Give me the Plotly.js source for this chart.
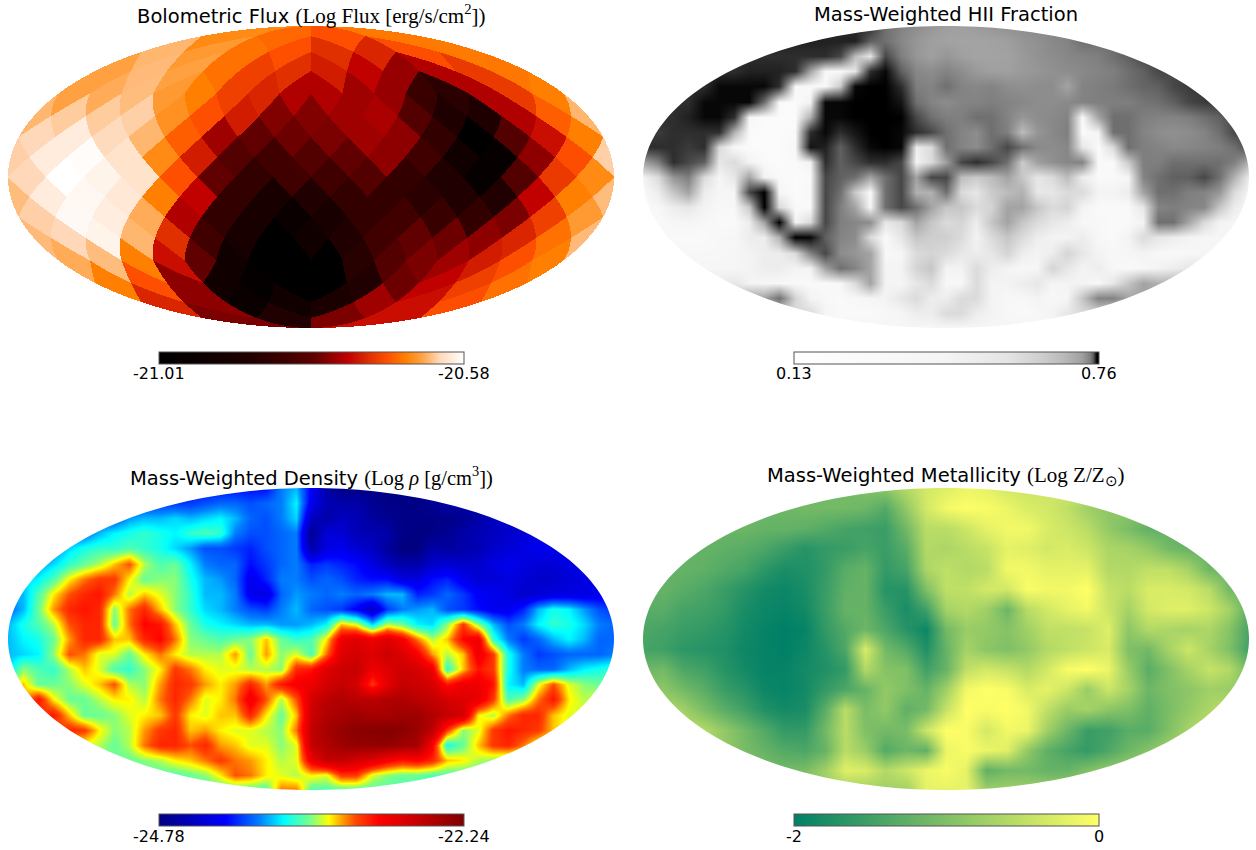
<!DOCTYPE html>
<html><head><meta charset="utf-8">
<script src="https://cdn.plot.ly/plotly-3.0.1.min.js"></script>
<style>html,body{margin:0;padding:0;background:#fff}#c{width:1256px;height:850px}</style>
</head><body><div id="c"></div>
<script>
// Log flux per sky pixel, ring by ring from the north, left to right as seen
const fluxRings = [
[-20.655,-20.675,-20.688,-20.666],
[-20.63,-20.645,-20.67,-20.688,-20.713,-20.72,-20.69,-20.665],
[-20.64,-20.628,-20.64,-20.67,-20.70,-20.713,-20.726,-20.743,-20.765,-20.752,-20.705,-20.667],
[-20.64,-20.635,-20.627,-20.645,-20.662,-20.70,-20.72,-20.752,-20.752,-20.761,-20.765,-20.84,-20.865,-20.752,-20.705,-20.662],
[-20.63,-20.62,-20.62,-20.618,-20.65,-20.688,-20.726,-20.775,-20.775,-20.761,-20.755,-20.808,-20.885,-20.885,-20.752,-20.68],
[-20.614,-20.597,-20.612,-20.63,-20.68,-20.761,-20.791,-20.785,-20.778,-20.761,-20.769,-20.851,-21.01,-20.808,-20.735,-20.662],
[-20.618,-20.597,-20.583,-20.605,-20.655,-20.726,-20.808,-20.829,-20.808,-20.791,-20.769,-20.829,-20.937,-20.98,-20.769,-20.69],
[-20.614,-20.58,-20.59,-20.605,-20.688,-20.791,-20.851,-20.829,-20.829,-20.808,-20.851,-20.881,-20.98,-20.808,-20.705,-20.655],
[-20.627,-20.597,-20.587,-20.60,-20.662,-20.743,-20.851,-20.91,-20.881,-20.851,-20.851,-20.865,-20.881,-20.881,-20.743,-20.662],
[-20.618,-20.585,-20.595,-20.635,-20.752,-20.851,-20.91,-20.96,-20.91,-20.851,-20.829,-20.84,-20.851,-20.778,-20.70,-20.645],
[-20.628,-20.614,-20.59,-20.63,-20.713,-20.829,-20.91,-21.01,-20.937,-20.881,-20.829,-20.79,-20.785,-20.769,-20.72,-20.67],
[-20.635,-20.627,-20.662,-20.735,-20.791,-20.937,-21.01,-21.01,-21.005,-20.87,-20.808,-20.778,-20.761,-20.726,-20.688,-20.662],
[-20.662,-20.688,-20.769,-20.937,-20.99,-21.01,-21.01,-20.881,-20.785,-20.743,-20.70,-20.67],
[-20.72,-20.769,-20.96,-20.937,-20.90,-20.761,-20.735,-20.69],
[-20.778,-20.881,-20.778,-20.735]
];
// HII fraction, sampled on a grid across the map picture (rows top to bottom)
const hiiRows = [
[.752,.752,.752,.752,.752,.752,.752,.752,.752,.752,.752,.752,.752,.752,.752,.752,.745,.74,.735,.73,.725,.725,.727,.73,.733,.735,.737,.738,.74,.74,.742,.742,.742,.742,.742,.742,.742,.742,.742,.742,.742],
[.753,.753,.753,.753,.753,.753,.753,.753,.753,.753,.753,.753,.753,.753,.753,.748,.745,.738,.73,.725,.722,.72,.72,.722,.725,.73,.733,.737,.74,.745,.745,.745,.745,.745,.745,.745,.745,.745,.745,.745,.745],
[.752,.752,.752,.752,.752,.752,.752,.752,.752,.752,.752,.752,.752,.75,.68,.55,.75,.742,.73,.725,.73,.725,.72,.72,.722,.728,.732,.735,.738,.74,.742,.745,.748,.75,.75,.75,.75,.75,.75,.75,.75],
[.752,.752,.752,.752,.752,.752,.752,.753,.753,.753,.752,.72,.35,.3,.55,.752,.755,.748,.738,.735,.74,.735,.728,.725,.725,.728,.73,.733,.735,.737,.74,.742,.745,.748,.75,.75,.75,.75,.75,.75,.75],
[.752,.752,.752,.752,.752,.755,.755,.755,.755,.752,.35,.3,.3,.65,.755,.756,.757,.752,.742,.74,.745,.74,.738,.74,.735,.733,.735,.735,.72,.74,.742,.743,.745,.747,.748,.75,.751,.751,.751,.751,.751],
[.752,.752,.752,.752,.755,.755,.755,.755,.745,.3,.25,.45,.755,.755,.756,.757,.757,.754,.745,.74,.735,.74,.74,.742,.74,.738,.735,.735,.737,.74,.742,.742,.742,.744,.745,.748,.75,.751,.751,.751,.751],
[.752,.752,.752,.753,.755,.755,.752,.4,.25,.25,.25,.7,.755,.755,.756,.757,.758,.756,.75,.745,.742,.742,.745,.745,.74,.73,.735,.737,.74,.3,.72,.745,.745,.742,.74,.74,.742,.745,.748,.75,.75],
[.751,.751,.752,.752,.752,.752,.7,.3,.25,.25,.3,.752,.755,.752,.754,.756,.757,.755,.752,.75,.745,.74,.735,.745,.742,.68,.73,.737,.742,.25,.45,.745,.745,.74,.735,.733,.735,.74,.745,.75,.75],
[.752,.752,.752,.751,.752,.6,.3,.25,.25,.25,.35,.754,.753,.748,.752,.755,.757,.755,.5,.6,.745,.74,.735,.745,.75,.745,.737,.735,.738,.55,.25,.6,.745,.742,.74,.737,.738,.74,.742,.745,.75],
[.72,.742,.752,.75,.748,.55,.6,.45,.3,.25,.3,.45,.752,.748,.75,.752,.752,.75,.45,.6,.725,.75,.752,.75,.745,.65,.725,.733,.738,.74,.3,.3,.65,.742,.742,.745,.745,.745,.745,.742,.7],
[.45,.6,.73,.742,.6,.4,.55,.72,.45,.3,.25,.3,.75,.748,.745,.72,.745,.75,.72,.75,.75,.68,.65,.68,.72,.66,.55,.6,.68,.5,.3,.3,.4,.74,.745,.748,.748,.75,.745,.7,.5],
[.3,.5,.66,.72,.5,.4,.4,.75,.756,.4,.25,.35,.75,.745,.65,.25,.745,.75,.7,.7,.745,.6,.55,.65,.68,.7,.55,.55,.6,.6,.45,.45,.5,.72,.745,.745,.742,.74,.73,.6,.4],
[.3,.35,.5,.55,.45,.35,.35,.65,.756,.6,.3,.3,.75,.742,.72,.4,.745,.75,.745,.72,.66,.66,.6,.62,.72,.72,.66,.6,.62,.45,.3,.3,.3,.55,.74,.742,.74,.738,.66,.5,.35],
[.35,.3,.4,.4,.35,.3,.3,.5,.72,.756,.45,.6,.75,.742,.738,.735,.55,.6,.72,.66,.6,.62,.5,.66,.72,.66,.6,.55,.5,.35,.35,.3,.3,.45,.745,.745,.72,.6,.45,.4,.4],
[.4,.35,.3,.3,.3,.35,.35,.5,.5,.7,.756,.755,.748,.74,.735,.6,.3,.55,.66,.64,.64,.6,.45,.6,.66,.6,.5,.45,.45,.5,.35,.3,.45,.6,.55,.5,.45,.4,.4,.4,.4],
[.35,.35,.35,.35,.35,.35,.4,.45,.5,.5,.6,.74,.75,.735,.73,.72,.35,.4,.6,.62,.6,.55,.5,.55,.62,.5,.45,.5,.62,.55,.45,.35,.4,.45,.35,.3,.35,.4,.4,.4,.4],
[.35,.35,.35,.35,.4,.4,.4,.45,.5,.5,.45,.45,.72,.745,.74,.72,.45,.45,.62,.66,.45,.45,.6,.5,.45,.35,.4,.62,.55,.45,.5,.35,.3,.35,.45,.5,.55,.55,.55,.55,.55],
[.5,.5,.5,.5,.5,.5,.55,.45,.4,.35,.3,.3,.3,.35,.6,.72,.45,.4,.55,.6,.35,.35,.6,.45,.45,.5,.55,.4,.45,.45,.35,.55,.66,.72,.7,.7,.7,.7,.7,.7,.7],
[.66,.66,.66,.66,.66,.66,.66,.72,.72,.745,.62,.45,.35,.3,.35,.4,.45,.55,.6,.5,.5,.6,.6,.45,.35,.35,.45,.35,.4,.66,.74,.74,.72,.72,.72,.72,.72,.72,.72,.72,.72],
[.6,.6,.6,.6,.6,.6,.6,.6,.6,.6,.6,.6,.4,.3,.3,.3,.35,.4,.5,.5,.6,.6,.5,.45,.35,.3,.35,.45,.55,.6,.6,.6,.6,.6,.6,.6,.6,.6,.6,.6,.6],
[.4,.4,.4,.4,.4,.4,.4,.4,.4,.4,.4,.4,.4,.4,.4,.4,.4,.4,.4,.35,.35,.35,.4,.4,.4,.4,.4,.4,.4,.4,.4,.4,.4,.4,.4,.4,.4,.4,.4,.4,.4]
];
// Log density
const densityRows = [
[-24.2,-24.2,-24.2,-24.2,-24.2,-24.2,-24.2,-24.2,-24.2,-24.2,-24.2,-24.2,-24.2,-24.2,-24.2,-24.2,-24.2,-24.2,-23.95,-23.85,-24.25,-24.6,-24.75,-24.75,-24.75,-24.75,-24.75,-24.75,-24.75,-24.75,-24.75,-24.75,-24.75,-24.75,-24.75,-24.75,-24.75,-24.75,-24.75,-24.75,-24.75],
[-24.1,-24.1,-24.1,-24.1,-24.1,-24.1,-24.1,-24.1,-24.1,-24.1,-24.1,-24.1,-24.1,-24.05,-24.0,-24.0,-24.05,-24.0,-23.95,-23.75,-24.3,-24.55,-24.6,-24.6,-24.7,-24.75,-24.75,-24.75,-24.7,-24.6,-24.6,-24.6,-24.6,-24.6,-24.6,-24.6,-24.6,-24.6,-24.6,-24.6,-24.6],
[-24.05,-24.05,-24.05,-24.05,-24.05,-24.05,-24.05,-24.05,-23.9,-23.85,-23.85,-23.8,-23.85,-23.8,-23.75,-23.85,-24.0,-24.05,-23.95,-23.8,-24.5,-24.6,-24.5,-24.55,-24.65,-24.7,-24.75,-24.75,-24.75,-24.75,-24.7,-24.6,-24.5,-24.45,-24.45,-24.45,-24.45,-24.45,-24.45,-24.45,-24.45],
[-24.0,-24.0,-24.0,-24.0,-24.0,-24.0,-23.85,-23.75,-23.7,-23.65,-23.7,-23.75,-23.65,-23.6,-23.65,-23.95,-24.05,-24.05,-24.0,-23.95,-24.7,-24.4,-24.4,-24.55,-24.55,-24.6,-24.75,-24.78,-24.75,-24.7,-24.6,-24.55,-24.5,-24.45,-24.4,-24.35,-24.35,-24.35,-24.35,-24.35,-24.35],
[-23.95,-23.95,-23.95,-23.95,-23.8,-23.7,-23.65,-23.65,-23.6,-23.65,-23.7,-23.8,-23.9,-24.05,-24.05,-24.1,-24.15,-24.05,-24.0,-23.95,-24.6,-24.35,-24.3,-24.4,-24.5,-24.65,-24.78,-24.78,-24.6,-24.65,-24.6,-24.55,-24.45,-24.4,-24.35,-24.3,-24.3,-24.3,-24.3,-24.3,-24.3],
[-23.95,-23.95,-23.9,-23.8,-23.65,-23.55,-23.45,-23.3,-23.15,-23.45,-23.6,-23.55,-23.75,-23.95,-24.0,-24.0,-24.2,-24.1,-24.0,-23.95,-24.15,-24.1,-24.15,-24.2,-24.35,-24.5,-24.6,-24.6,-24.45,-24.4,-24.45,-24.45,-24.35,-24.3,-24.35,-24.4,-24.4,-24.35,-24.35,-24.35,-24.35],
[-23.8,-23.8,-23.75,-23.6,-23.35,-23.2,-23.1,-23.1,-23.35,-23.55,-23.5,-23.5,-23.7,-23.85,-23.9,-24.0,-24.3,-24.15,-23.95,-23.95,-24.05,-24.0,-24.05,-24.15,-24.2,-24.2,-24.35,-24.35,-24.2,-24.15,-24.3,-24.4,-24.4,-24.35,-24.4,-24.45,-24.45,-24.4,-24.35,-24.3,-24.3],
[-23.85,-23.85,-23.6,-23.35,-23.15,-23.05,-23.0,-23.2,-23.45,-23.3,-23.4,-23.5,-23.65,-23.85,-23.85,-23.95,-24.3,-24.35,-24.0,-23.9,-23.95,-24.0,-23.95,-24.0,-23.95,-23.85,-23.85,-24.15,-24.1,-24.0,-24.1,-24.25,-24.3,-24.35,-24.45,-24.4,-24.35,-24.35,-24.35,-24.3,-24.25],
[-24.0,-23.85,-23.55,-23.25,-23.05,-23.0,-23.05,-23.5,-23.2,-23.05,-23.3,-23.5,-23.65,-23.8,-23.85,-23.95,-24.05,-24.1,-23.95,-23.85,-24.0,-24.05,-24.1,-24.25,-24.5,-24.1,-23.95,-23.9,-23.85,-24.05,-24.1,-24.2,-24.3,-24.3,-24.15,-23.85,-23.7,-23.75,-23.9,-24.05,-24.1],
[-23.85,-23.7,-23.6,-23.45,-23.15,-23.05,-23.05,-23.55,-23.2,-22.95,-23.0,-23.3,-23.55,-23.7,-23.75,-23.8,-23.85,-23.85,-23.9,-23.9,-23.85,-23.75,-23.3,-23.4,-23.8,-23.45,-23.55,-23.75,-23.8,-23.5,-23.1,-23.5,-23.85,-24.05,-23.95,-23.75,-23.65,-23.7,-23.8,-23.95,-24.0],
[-23.85,-23.75,-23.7,-23.55,-23.25,-23.05,-23.05,-23.3,-23.3,-23.05,-22.95,-23.2,-23.5,-23.55,-23.6,-23.55,-23.5,-23.3,-23.55,-23.65,-23.6,-23.35,-22.85,-22.75,-22.85,-22.75,-22.9,-23.2,-23.45,-23.3,-22.95,-22.85,-23.65,-23.95,-24.1,-24.0,-23.85,-23.75,-23.85,-24.0,-24.0],
[-23.85,-23.8,-23.75,-23.5,-23.15,-23.2,-23.4,-23.4,-23.55,-23.35,-23.2,-23.35,-23.45,-23.45,-23.45,-23.25,-23.55,-23.25,-23.5,-23.4,-23.6,-23.2,-22.75,-22.7,-22.75,-22.65,-22.75,-22.9,-23.25,-23.45,-23.3,-22.85,-23.1,-23.7,-23.95,-24.1,-24.05,-24.0,-24.0,-24.0,-23.95],
[-23.8,-23.5,-23.6,-23.65,-23.45,-23.3,-23.4,-23.6,-23.65,-23.5,-23.35,-23.1,-23.2,-23.35,-23.4,-23.4,-23.45,-23.45,-23.5,-23.05,-23.0,-22.75,-22.65,-22.6,-22.85,-22.75,-22.65,-22.7,-22.85,-23.65,-23.3,-23.0,-23.1,-23.7,-23.95,-24.0,-24.0,-23.85,-23.75,-23.7,-23.65],
[-23.5,-23.3,-23.55,-23.55,-23.5,-23.4,-23.3,-23.15,-23.45,-23.5,-23.25,-23.05,-23.1,-23.25,-23.35,-23.25,-23.05,-23.25,-23.0,-22.9,-22.85,-22.7,-22.6,-22.7,-23.1,-22.8,-22.6,-22.65,-22.7,-23.0,-22.85,-22.85,-23.0,-23.75,-23.85,-23.4,-23.15,-23.4,-23.5,-23.55,-23.55],
[-23.3,-23.3,-23.0,-23.35,-23.55,-23.55,-23.45,-23.35,-23.35,-23.45,-23.2,-23.05,-23.2,-23.4,-23.35,-23.2,-22.85,-23.15,-23.45,-23.15,-22.7,-22.55,-22.5,-22.55,-22.55,-22.5,-22.5,-22.55,-22.6,-22.7,-22.75,-22.8,-23.1,-23.6,-23.5,-23.2,-23.0,-23.35,-23.45,-23.4,-23.4],
[-23.1,-23.1,-23.1,-23.0,-23.3,-23.55,-23.55,-23.5,-23.4,-23.35,-23.3,-23.1,-23.35,-23.4,-23.3,-23.3,-23.05,-23.35,-23.55,-23.3,-22.65,-22.5,-22.45,-22.4,-22.45,-22.45,-22.4,-22.4,-22.5,-22.6,-22.7,-23.35,-23.45,-23.2,-23.05,-23.05,-23.3,-23.4,-23.4,-23.4,-23.4],
[-23.2,-23.2,-23.2,-23.2,-23.05,-23.1,-23.35,-23.5,-23.45,-23.25,-23.1,-23.05,-23.3,-23.25,-23.35,-23.4,-23.4,-23.45,-23.5,-23.2,-22.6,-22.45,-22.35,-22.3,-22.28,-22.26,-22.3,-22.4,-22.55,-23.1,-23.5,-23.4,-23.1,-23.0,-23.05,-23.1,-23.3,-23.4,-23.4,-23.4,-23.4],
[-23.4,-23.4,-23.4,-23.4,-23.4,-23.4,-23.45,-23.55,-23.45,-23.2,-23.05,-23.05,-23.15,-23.05,-23.25,-23.3,-23.4,-23.4,-23.5,-23.4,-22.6,-22.5,-22.4,-22.35,-22.35,-22.35,-22.4,-22.45,-22.9,-23.7,-23.55,-23.3,-23.1,-23.05,-23.2,-23.4,-23.4,-23.4,-23.4,-23.4,-23.4],
[-23.55,-23.55,-23.55,-23.55,-23.55,-23.55,-23.55,-23.55,-23.55,-23.5,-23.45,-23.35,-23.3,-23.2,-23.1,-23.2,-23.25,-23.35,-23.45,-23.4,-22.85,-22.6,-22.6,-22.7,-22.75,-22.9,-23.0,-22.95,-23.05,-23.3,-23.35,-23.45,-23.5,-23.55,-23.55,-23.55,-23.55,-23.55,-23.55,-23.55,-23.55],
[-23.6,-23.6,-23.6,-23.6,-23.6,-23.6,-23.6,-23.6,-23.6,-23.6,-23.6,-23.6,-23.55,-23.5,-23.35,-23.15,-23.2,-23.35,-23.4,-23.45,-23.35,-23.4,-23.1,-23.1,-23.4,-23.5,-23.55,-23.55,-23.6,-23.6,-23.6,-23.6,-23.6,-23.6,-23.6,-23.6,-23.6,-23.6,-23.6,-23.6,-23.6],
[-23.6,-23.6,-23.6,-23.6,-23.6,-23.6,-23.6,-23.6,-23.6,-23.6,-23.6,-23.6,-23.6,-23.6,-23.6,-23.6,-23.6,-23.6,-23.2,-23.2,-23.6,-23.6,-23.6,-23.6,-23.6,-23.6,-23.6,-23.6,-23.6,-23.6,-23.6,-23.6,-23.6,-23.6,-23.6,-23.6,-23.6,-23.6,-23.6,-23.6,-23.6]
];
// Log metallicity
const metalRows = [
[-1.1,-1.1,-1.1,-1.1,-1.1,-1.1,-1.1,-1.1,-1.1,-1.1,-1.1,-1,-.9,-.6,-.35,-.25,-.15,-.2,-.35,-.4,-.4,-.4,-.4,-.4,-.4,-.4,-.4,-.4,-.4,-.4,-.4],
[-1.15,-1.15,-1.15,-1.15,-1.15,-1.15,-1.15,-1.15,-1.1,-1.1,-1.1,-1.15,-1.35,-.85,-.35,-.1,-.02,-.05,-.15,-.3,-.35,-.5,-.75,-.9,-.9,-.9,-.9,-.9,-.9,-.9,-.9],
[-1.15,-1.15,-1.15,-1.15,-1.15,-1.15,-1.2,-1.2,-1.25,-1.35,-1.45,-1.5,-1.55,-1.1,-.55,-.55,-.4,-.2,-.1,-.1,-.3,-.4,-.55,-.85,-1.05,-1.25,-1.25,-1.25,-1.25,-1.25,-1.25],
[-1.2,-1.2,-1.2,-1.2,-1.25,-1.3,-1.4,-1.55,-1.7,-1.6,-1.55,-1.45,-1.55,-1.3,-.6,-.65,-.55,-.45,-.2,-.25,-.35,-.3,-.4,-.65,-.7,-.85,-1.1,-1.2,-1.2,-1.2,-1.2],
[-1.2,-1.2,-1.2,-1.25,-1.35,-1.45,-1.65,-1.8,-1.75,-1.6,-1.3,-1.2,-1.6,-1.45,-.65,-.5,-.6,-.55,-.1,-.1,-.2,-.2,-.2,-.6,-.6,-.5,-.5,-.7,-1.15,-1.15,-1.15],
[-1.2,-1.2,-1.3,-1.4,-1.55,-1.7,-1.85,-1.9,-1.8,-1.55,-1.25,-1.2,-1.7,-1.7,-1,-.5,-.5,-.35,-.35,-.05,-.1,-.1,0,-.45,-.55,-.3,-.3,-.35,-.55,-1.1,-1.1],
[-1.3,-1.3,-1.45,-1.5,-1.6,-1.8,-1.9,-1.95,-1.85,-1.55,-1.2,-1.2,-1.55,-1.8,-1.5,-.7,-.6,-.75,-1.15,-.55,-.35,-.2,-.1,-.4,-.7,-.35,-.25,-.25,-.4,-.7,-1.3],
[-1.4,-1.45,-1.55,-1.6,-1.7,-1.85,-1.95,-2,-1.95,-1.6,-1.35,-1.15,-1.4,-1.7,-1.9,-1.1,-.8,-.85,-.95,-.75,-.5,-.5,-.45,-.25,-.9,-.6,-.65,-.7,-.65,-.95,-1.45],
[-1.45,-1.5,-1.65,-1.7,-1.75,-1.9,-1.95,-2,-1.9,-1.7,-1.4,-.3,-1.1,-1.35,-1.75,-1.2,-.7,-.9,-1,-.85,-.6,-.5,-.4,-.3,-1,-1.1,-.7,-.4,-.7,-1,-1.5],
[-1.15,-1.1,-1.4,-1.5,-1.7,-1.85,-1.95,-1.95,-1.85,-1.75,-1.6,-.6,-.95,-1,-1.5,-1.2,-.5,-.35,-.45,-.6,-.35,-.05,0,-.15,-.8,-1.3,-1,-.7,-.45,-.6,-1.1],
[-.95,-.9,-1.1,-1.3,-1.55,-1.7,-1.9,-1.95,-1.85,-1.6,-1.4,-1.2,-.85,-1,-1.2,-.75,-.1,0,-.05,-.3,-.2,-.4,-.8,-.4,-.7,-1.15,-1,-.9,-.75,-.8,-.9],
[-.6,-.6,-.75,-1.05,-1.3,-1.5,-1.75,-1.85,-1.8,-1.3,-.55,-1.05,-.85,-1.25,-1.1,-.45,0,-.05,0,-.1,-.5,-.8,-.7,-.9,-1,-1.25,-1.05,-.85,-.65,-.5,-.5],
[-.5,-.5,-.5,-.6,-.85,-1.1,-1.35,-1.6,-1.6,-1.1,-.55,-1,-1.1,-1.05,-.4,0,-.05,-.35,-.1,-.15,-.75,-1.15,-1.55,-1.5,-1.3,-1.3,-1,-.7,-.5,-.5,-.5],
[-.7,-.7,-.7,-.7,-.85,-1.05,-1.2,-1.35,-1.4,-1.2,-.55,-.8,-1.35,-1.15,-1.25,-.15,-.05,-.15,-.25,-.85,-1.25,-1.45,-1.6,-1.4,-1.15,-.95,-.75,-.6,-.6,-.6,-.6],
[-.95,-.95,-.95,-.95,-.95,-.95,-1.05,-1.1,-1.05,-.75,-.25,-.3,-.6,-.4,-.15,-.05,-.2,-1.25,-1.1,-1.1,-1.2,-1.2,-1,-.85,-.75,-.7,-.7,-.7,-.7,-.7,-.7],
[-.75,-.75,-.75,-.75,-.75,-.75,-.75,-.75,-.75,-.75,-.75,-.75,-.75,-.75,-.2,-.2,-.2,-.75,-.75,-.75,-.75,-.75,-.75,-.75,-.75,-.75,-.75,-.75,-.75,-.75,-.75]
];
const titles = [
 'Bolometric Flux <span style="font-family:\'Liberation Serif\';font-size:21px">(Log Flux [erg/s/cm<sup>2</sup>])</span>',
 'Mass-Weighted HII Fraction',
 'Mass-Weighted Density <span style="font-family:\'Liberation Serif\';font-size:20.5px">(Log <i>ρ</i> [g/cm<sup>3</sup>])</span>',
 'Mass-Weighted Metallicity <span style="font-family:\'Liberation Serif\';font-size:21px">(Log Z/Z<sub>⊙</sub>)</span>'
];
const ranges = [[-21.01,-20.58],[0.13,0.76],[-24.78,-22.24],[-2,0]];
const rangeLabels = [['-21.01','-20.58'],['0.13','0.76'],['-24.78','-22.24'],['-2','0']];
const fluxScale = [[0,'#000000'],[.17,'#100000'],[.3,'#200000'],[.42,'#400000'],[.51,'#600000'],[.58,'#a00000'],[.62,'#c00000'],[.69,'#e03000'],[.75,'#ff5000'],[.81,'#ff8000'],[.86,'#ffa040'],[.92,'#ffd8b8'],[1,'#ffffff']];
const hiiScale = [[0,'#ffffff'],[.5,'#f4f4f4'],[.7,'#e4e4e4'],[.82,'#cccccc'],[.889,'#b8b8b8'],[.944,'#a0a0a0'],[.971,'#808080'],[.981,'#606060'],[.985,'#404040'],[.989,'#202020'],[.993,'#000000'],[1,'#000000']];
const densityScale = [[0,'#000080'],[.11,'#0000c0'],[.22,'#0000ff'],[.33,'#0080ff'],[.41,'#00ffff'],[.5,'#80ff80'],[.557,'#ffff00'],[.6,'#ffa000'],[.645,'#ff4800'],[.72,'#ff0000'],[.85,'#c80000'],[1,'#7f0000']];
const metalScale = [[0,'#008066'],[1,'#ffff66']];

// Where each panel sits in the window, in pixels: left, top, right, bottom
const boxes = [[8,26,614,328],[643,26,1249,328],[8,488,614,790],[643,488,1249,790]];
const bars = [[159,352],[794,352],[159,814],[794,814]];
const W = 1256, H = 850, BW = 305, BH = 12;

// Sky-pixel lookup for the flux panel: picture position to ring and pixel
function skyPixel(fx, fy){
  const N = 4, th = Math.asin(fy), z = Math.max(-1,Math.min(1,(2*th+Math.sin(2*th))/Math.PI));
  let phi = fx/Math.cos(th)*Math.PI + Math.PI;
  if (phi < 0 || phi >= 2*Math.PI) return null;
  const za = Math.abs(z), tt = phi/(Math.PI/2);
  if (za <= 2/3){
    const t1 = N*(.5+tt), t2 = N*z*.75, jp = Math.floor(t1-t2), jm = Math.floor(t1+t2);
    const ir = N+1+jp-jm, ks = 1-(ir&1);
    const ip = (((jp+jm-N+ks+1)>>1) % (4*N) + 4*N) % (4*N);
    return [N+ir-1-1, ip];
  }
  const tp = tt-Math.floor(tt), tmp = N*Math.sqrt(3*(1-za));
  const jp = Math.floor(tp*tmp), jm = Math.floor((1-tp)*tmp), ir = jp+jm+1;
  const ip = Math.min(Math.floor(tt*ir), 4*ir-1);
  return [z>0 ? ir-1 : 4*N-ir-1, ip];
}
const fw = 606, fh = 302, fluxZ = [], fx = [], fy = [];
for (let i=0;i<fw;i++) fx.push(i);
for (let j=0;j<fh;j++){
  fy.push(j);
  const row = [], yy = 1-(j+.5)/fh*2;
  for (let i=0;i<fw;i++){
    const xx = (i+.5)/fw*2-1;
    if (xx*xx+yy*yy>1){row.push(null);continue;}
    const p = skyPixel(xx,yy);
    row.push(p ? fluxRings[p[0]][p[1]] : null);
  }
  fluxZ.push(row);
}
// The HII panel is shown on an equalised scale, as its colour bar is: each value becomes a grey shade
function hiiShade(v){
  const f = (v-ranges[1][0])/(ranges[1][1]-ranges[1][0]);
  const dark = c => 1-parseInt(c.slice(1,3),16)/255;
  for (let s=1;s<hiiScale.length;s++){
    const a = hiiScale[s-1], b = hiiScale[s];
    if (f<=b[0]) return dark(a[1])+(dark(b[1])-dark(a[1]))*(f-a[0])/(b[0]-a[0]);
  }
  return 1;
}
const hiiShown = hiiRows.map(r=>r.map(hiiShade));
const zs = [fluxZ,hiiShown,densityRows,metalRows];
const scales = [fluxScale,[[0,'#ffffff'],[1,'#000000']],densityScale,metalScale];
const data = [], annotations = [], shapes = [];
const layout = {width:W,height:H,margin:{l:0,r:0,t:0,b:0},paper_bgcolor:'#fff',plot_bgcolor:'#fff',showlegend:false,
  font:{family:'DejaVu Sans',color:'#000',size:16}};
function barOf(k){
  return {orientation:'h',lenmode:'pixels',len:BW,thicknessmode:'pixels',thickness:BH,
    x:(bars[k][0]+BW/2)/W,xanchor:'center',y:1-bars[k][1]/H,yanchor:'top',xpad:0,ypad:0,
    showticklabels:false,ticks:'',ticklen:0,outlinecolor:'#555',outlinewidth:1,borderwidth:0};
}
zs.forEach((z,k)=>{
  const b = boxes[k], ax = k?String(k+1):'';
  const flat = k===0, shaded = k===1;
  const mx = z[0].length-1, my = z.length-1;
  const xr = flat?[-.5,fw-.5]:[0,mx], yr = flat?[fh-.5,-.5]:[my,0];
  layout['xaxis'+ax] = {domain:[b[0]/W,b[2]/W],range:xr,visible:false,fixedrange:true,anchor:'y'+ax};
  layout['yaxis'+ax] = {domain:[1-b[3]/H,1-b[1]/H],range:yr,visible:false,fixedrange:true,anchor:'x'+ax};
  const tr = {type:'heatmap',z:z,x:flat?fx:z[0].map((_,i)=>i),y:flat?fy:z.map((_,j)=>j),xaxis:'x'+ax,yaxis:'y'+ax,
    zmin:shaded?0:ranges[k][0],zmax:shaded?1:ranges[k][1],colorscale:scales[k],zsmooth:flat?'fast':'best',hoverinfo:'skip'};
  if (shaded){
    tr.showscale = false;
    data.push(tr);
    // off-range helper that only carries the panel's colour bar in real units
    data.push({type:'heatmap',z:[ranges[k],ranges[k]],x:[-20,-19],y:[-20,-19],xaxis:'x'+ax,yaxis:'y'+ax,
      zmin:ranges[k][0],zmax:ranges[k][1],colorscale:hiiScale,hoverinfo:'skip',colorbar:barOf(k)});
  } else { tr.colorbar = barOf(k); data.push(tr); }
  annotations.push({xref:'paper',yref:'paper',x:(b[0]+b[2])/2/W,y:1-(b[1]-12)/H,xanchor:'center',yanchor:'middle',
    text:titles[k],showarrow:false,font:{family:'DejaVu Sans',size:19.5,color:'#000'}});
  [0,1].forEach(e=>annotations.push({xref:'paper',yref:'paper',x:(bars[k][0]+e*BW)/W,y:1-(bars[k][1]+22)/H,
    xanchor:'center',yanchor:'middle',text:rangeLabels[k][e],showarrow:false,font:{family:'DejaVu Sans',size:16,color:'#000'}}));
  if (!flat){
    // white surround that gives the smooth panels their elliptical edge
    const cx=mx/2, cy=my/2, pts=[];
    for (let a=0;a<=240;a++){const t=a/240*2*Math.PI;pts.push((a?'L':'M')+(cx+cx*Math.cos(t))+','+(cy+cy*Math.sin(t)));}
    const path='M0,0L'+mx+',0L'+mx+','+my+'L0,'+my+'Z'+pts.join('')+'Z';
    shapes.push({type:'path',xref:'x'+ax,yref:'y'+ax,path:path,fillcolor:'#fff',fillrule:'evenodd',line:{width:0},layer:'above'});
  }
});
layout.annotations = annotations; layout.shapes = shapes;
Plotly.newPlot('c',data,layout,{displayModeBar:false,staticPlot:true});
</script></body></html>
